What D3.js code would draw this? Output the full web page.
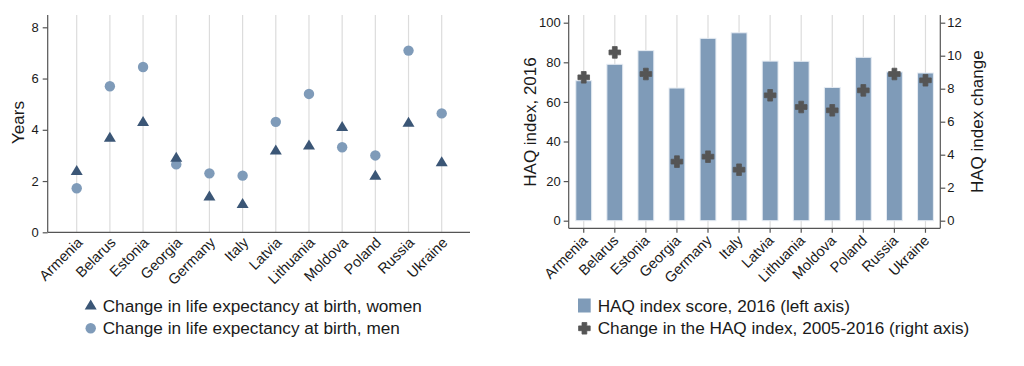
<!DOCTYPE html>
<html><head><meta charset="utf-8">
<script src="https://cdn.jsdelivr.net/npm/d3@7"></script>
<style>body{margin:0;background:#fff}svg{display:block}text{font-family:"Liberation Sans",Arial,sans-serif;fill:#1a1a1a}</style>
</head><body><svg id="c" width="1024" height="366"></svg>
<script>
const countries = ["Armenia","Belarus","Estonia","Georgia","Germany","Italy","Latvia","Lithuania","Moldova","Poland","Russia","Ukraine"];
const lifeWomen = [2.43,3.73,4.34,2.95,1.44,1.14,3.23,3.43,4.15,2.25,4.31,2.77];
const lifeMen   = [1.72,5.70,6.45,2.65,2.30,2.21,4.31,5.40,3.32,3.00,7.09,4.64];
const haqScore  = [70.7,79.0,85.9,67.0,92.1,94.9,80.6,80.5,67.3,82.5,75.1,74.6];
const haqChange = [8.69,10.2,8.89,3.58,3.88,3.09,7.60,6.89,6.69,7.90,8.89,8.51];
const leftTicks = [0,2,4,6,8];
const haqTicks = [0,20,40,60,80,100];
const changeTicks = [0,2,4,6,8,10,12];
const legendLeft = ["Change in life expectancy at birth, women","Change in life expectancy at birth, men"];
const legendRight = ["HAQ index score, 2016 (left axis)","Change in the HAQ index, 2005-2016 (right axis)"];

const C = {tri:"#3b5676", circ:"#7f9bb9", bar:"#7f9bb8", plus:"#555555", grid:"#dcdcdc", axis:"#555555"};
const svg = d3.select("#c");
svg.append("rect").attr("width",1024).attr("height",366).attr("fill","#fff");

const triPath = "M0,-5 L6,5 L-6,5 Z";
const plusPath = (() => { const a=2.4, b=5.8; return `M${-a},${-b}H${a}V${-a}H${b}V${a}H${a}V${b}H${-a}V${a}H${-b}V${-a}H${-a}Z`; })();

// ---------- LEFT CHART ----------
const L = svg.append("g");
const xL = d3.scalePoint().domain(countries).range([76.7, 441.7]);
const yL = d3.scaleLinear().domain([0, 8]).range([232.3, 27.3]);
const yLTop = yL.invert(15);
L.selectAll(".g").data(countries).join("line")
  .attr("x1", d=>xL(d)).attr("x2", d=>xL(d)).attr("y1", yL(yLTop)).attr("y2", yL(0))
  .attr("stroke", C.grid).attr("stroke-width", 1.2);
const yAxL = L.append("g").attr("transform","translate(47.7,0)")
  .call(d3.axisLeft(yL).tickValues(leftTicks).tickSize(5).tickPadding(4).tickFormat(d3.format("d")));
yAxL.select(".domain").attr("d", `M0,${yL(yLTop)}V${yL(0)}`);
const xAxL = L.append("g").attr("transform",`translate(0,${yL(0)})`)
  .call(d3.axisBottom(xL).tickSize(0).tickPadding(0));
xAxL.select(".domain").attr("d", `M47.7,0H470`);
[yAxL, xAxL].forEach(a=>{a.selectAll("path,line").attr("stroke",C.axis).attr("stroke-width",1.2); a.selectAll("text").attr("fill","#1a1a1a");});
yAxL.selectAll("text").style("font-size","13px");
xAxL.selectAll("text").style("font-size","14.5px").attr("text-anchor","end")
  .attr("transform","translate(-1,4) rotate(-45)").attr("dy","0.7em").attr("y",0).attr("x",0);
L.append("text").attr("transform","translate(24,122.5) rotate(-90)").attr("text-anchor","middle")
  .style("font-size","17px").text("Years");
L.selectAll(".circ").data(countries).join("circle")
  .attr("cx", d=>xL(d)).attr("cy", (d,i)=>yL(lifeMen[i])).attr("r",5.2).attr("fill",C.circ);
L.selectAll(".tri").data(countries).join("path")
  .attr("d", triPath).attr("transform",(d,i)=>`translate(${xL(d)},${yL(lifeWomen[i])})`).attr("fill",C.tri);
const lgL = L.append("g");
lgL.append("path").attr("d",triPath).attr("transform","translate(90.7,304.5)").attr("fill",C.tri);
lgL.append("circle").attr("cx",90.7).attr("cy",328.3).attr("r",5.2).attr("fill",C.circ);
lgL.selectAll("text").data(legendLeft).join("text").attr("x",102.7).attr("y",(d,i)=>312.3+i*22)
  .style("font-size","17.2px").text(d=>d);

// ---------- RIGHT CHART ----------
const R = svg.append("g");
const xR = d3.scaleBand().domain(countries).range([568.2, 941]).paddingInner(0.49).paddingOuter(0.245);
const yR = d3.scaleLinear().domain([0,100]).range([220.7, 22.7]);
const yR2 = d3.scaleLinear().domain([0,12]).range([220.7, 22.7]);
const cx = d => xR(d) + xR.bandwidth()/2;
R.selectAll(".g").data(countries).join("line")
  .attr("x1", cx).attr("x2", cx).attr("y1", 15).attr("y2", 228.3)
  .attr("stroke", C.grid).attr("stroke-width", 1.2);
R.selectAll(".bar").data(countries).join("rect")
  .attr("x", d=>xR(d)).attr("width", xR.bandwidth())
  .attr("y", (d,i)=>yR(haqScore[i])).attr("height",(d,i)=>yR(0)-yR(haqScore[i]))
  .attr("fill", C.bar).attr("stroke","#e6ecf3").attr("stroke-width",1);
const axL2 = R.append("g").attr("transform","translate(568.7,0)")
  .call(d3.axisLeft(yR).tickValues(haqTicks).tickSize(5).tickPadding(3).tickFormat(d3.format("d")));
axL2.select(".domain").attr("d","M0,15V228.3");
const axR2 = R.append("g").attr("transform","translate(940.3,0)")
  .call(d3.axisRight(yR2).tickValues(changeTicks).tickSize(5).tickPadding(2).tickFormat(d3.format("d")));
axR2.select(".domain").attr("d","M0,15V228.3");
const axX2 = R.append("g").attr("transform","translate(0,228.3)")
  .call(d3.axisBottom(xR).tickSize(4.5).tickPadding(0));
axX2.select(".domain").attr("d","M568.7,0H940.3");
[axL2, axR2, axX2].forEach(a=>{a.selectAll("path,line").attr("stroke",C.axis).attr("stroke-width",1.2); a.selectAll("text").attr("fill","#1a1a1a");});
axL2.selectAll("text").style("font-size","13px");
axR2.selectAll("text").style("font-size","13px");
axX2.selectAll("text").style("font-size","14.5px").attr("text-anchor","end")
  .attr("transform","translate(-2.5,6) rotate(-45)").attr("dy","0.7em").attr("y",0).attr("x",0);
R.append("text").attr("transform","translate(536,122) rotate(-90)").attr("text-anchor","middle")
  .style("font-size","17px").text("HAQ index, 2016");
R.append("text").attr("transform","translate(982.5,121.7) rotate(-90)").attr("text-anchor","middle")
  .style("font-size","17px").text("HAQ index change");
R.selectAll(".plus").data(countries).join("path")
  .attr("d", plusPath).attr("transform",(d,i)=>`translate(${cx(d)},${yR2(haqChange[i])})`)
  .attr("fill", C.plus).attr("stroke",C.plus).attr("stroke-width",0.8).attr("stroke-linejoin","round");
const lgR = R.append("g");
lgR.append("rect").attr("x",578).attr("y",298.5).attr("width",12.7).attr("height",14).attr("fill",C.bar);
lgR.append("path").attr("d",plusPath).attr("transform","translate(584.4,328.3)").attr("fill",C.plus)
  .attr("stroke",C.plus).attr("stroke-width",0.8).attr("stroke-linejoin","round");
lgR.selectAll("text").data(legendRight).join("text").attr("x",597.7).attr("y",(d,i)=>312.3+i*22)
  .style("font-size","17.2px").text(d=>d);
</script></body></html>
